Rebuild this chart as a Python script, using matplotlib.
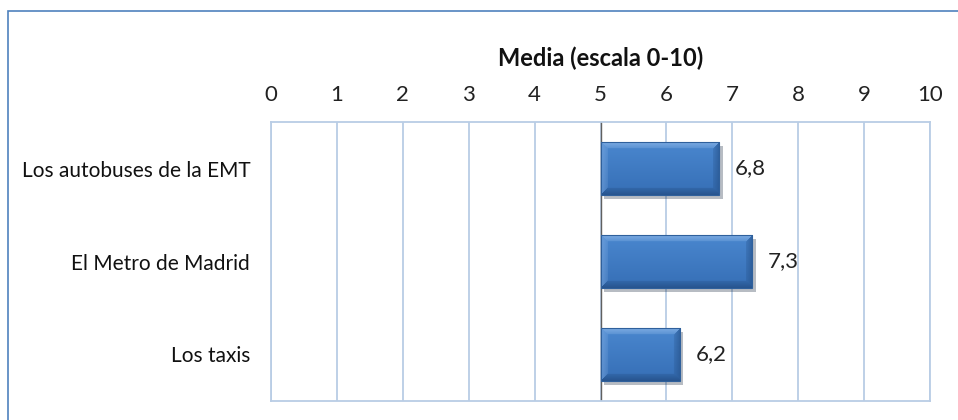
import numpy as np
import matplotlib
matplotlib.use("Agg")
import matplotlib.pyplot as plt
from matplotlib.patches import Rectangle
from matplotlib import patheffects as pe

categories = ["Los autobuses de la EMT", "El Metro de Madrid", "Los taxis"]
values = [6.8, 7.3, 6.2]
value_labels = ["6,8", "7,3", "6,2"]
baseline = 5
ticks = list(range(0, 11))
title = "Media (escala 0-10)"

plt.rcParams["font.family"] = ["Lato", "DejaVu Sans"]

fig = plt.figure(figsize=(9.58, 4.2), dpi=100)
W, H = 958, 420

# outer chart frame
fig.patches.append(Rectangle((8 / W, -0.1), 1.2, (420 - 11) / H + 0.1,
                             transform=fig.transFigure, fill=False,
                             edgecolor="#4f81bd", linewidth=1.2))

ax = fig.add_axes([271 / W, 1 - 401 / H, (930 - 271) / W, (401 - 122) / H])
ax.set_xlim(0, 10)
ax.set_ylim(len(categories) - 0.5, -0.5)

grid_color = "#b9cde5"
for t in ticks:
    ax.axvline(t, color=grid_color, linewidth=1.3, zorder=0)
ax.axvline(baseline, color="#606060", linewidth=1.0, zorder=1)
for s in ax.spines.values():
    s.set_color(grid_color)
    s.set_linewidth(1.3)

ypos = np.arange(len(categories))
widths = [v - baseline for v in values]
bars = ax.barh(ypos, widths, left=baseline, height=0.57,
               color="#3a76c0", edgecolor="none", zorder=3)


def bevel_image(w_px, h_px, bev=7):
    """RGB image of a bevelled blue bar face, w_px x h_px pixels."""
    face_top = np.array([0x4a, 0x87, 0xcf]) / 255
    face_bot = np.array([0x36, 0x6f, 0xb6]) / 255
    light = np.array([0x8c, 0xb6, 0xe8]) / 255
    dark = np.array([0x24, 0x4f, 0x86]) / 255
    yy, xx = np.mgrid[0:h_px, 0:w_px]
    t = (yy / max(h_px - 1, 1))[..., None]
    img = face_top * (1 - t) + face_bot * t
    d_top, d_bot = yy, h_px - 1 - yy
    d_left, d_right = xx, w_px - 1 - xx
    dmin = np.minimum.reduce([d_top, d_bot, d_left, d_right])
    zone = dmin < bev
    top = zone & (d_top == dmin)
    bot = zone & (d_bot == dmin) & ~top
    left = zone & (d_left == dmin) & ~top & ~bot
    right = zone & (d_right == dmin) & ~top & ~bot & ~left
    f = (1 - dmin / bev)[..., None] * 0.55 + 0.25
    img = np.where(top[..., None], img * (1 - f) + light * f, img)
    img = np.where(bot[..., None], img * (1 - f) + dark * f, img)
    img = np.where(left[..., None], img * (1 - 0.6 * f) + light * 0.6 * f, img)
    img = np.where(right[..., None], img * (1 - 0.8 * f) + dark * 0.8 * f, img)
    return np.clip(img, 0, 1)


fig.canvas.draw()
for b in bars:
    b.set_path_effects([pe.SimplePatchShadow(offset=(2.5, -3), alpha=0.3),
                        pe.Normal()])
    x0, y0, bw, bh = b.get_x(), b.get_y(), b.get_width(), b.get_height()
    p0 = ax.transData.transform((x0, y0))
    p1 = ax.transData.transform((x0 + bw, y0 + bh))
    w_px = int(round(abs(p1[0] - p0[0])))
    h_px = int(round(abs(p1[1] - p0[1])))
    im = ax.imshow(bevel_image(w_px, h_px), aspect="auto", zorder=4,
                   interpolation="bilinear",
                   extent=[x0, x0 + bw, y0 + bh, y0])
    im.set_clip_path(b)
    ax.add_patch(Rectangle((x0, y0), bw, bh, fill=False,
                           edgecolor="#2f609c", linewidth=0.8, zorder=5))

for b, lab in zip(bars, value_labels):
    ax.text(b.get_x() + b.get_width() + 0.24, b.get_y() + b.get_height() / 2,
            lab, va="center", ha="left", fontsize=16, color="#222222")

ax.xaxis.tick_top()
ax.set_xticks(ticks)
ax.set_xticklabels([str(t) for t in ticks], fontsize=16, color="#222222")
ax.tick_params(axis="x", length=0, pad=12)
ax.set_yticks(ypos)
ax.set_yticklabels(categories, fontsize=15, color="#111111")
ax.tick_params(axis="y", length=0, pad=15)

fig.text(601 / W, 1 - 58 / H, title, ha="center", va="center",
         fontsize=17, fontweight="bold", color="#111111")

fig.savefig("out.png", dpi=100)
